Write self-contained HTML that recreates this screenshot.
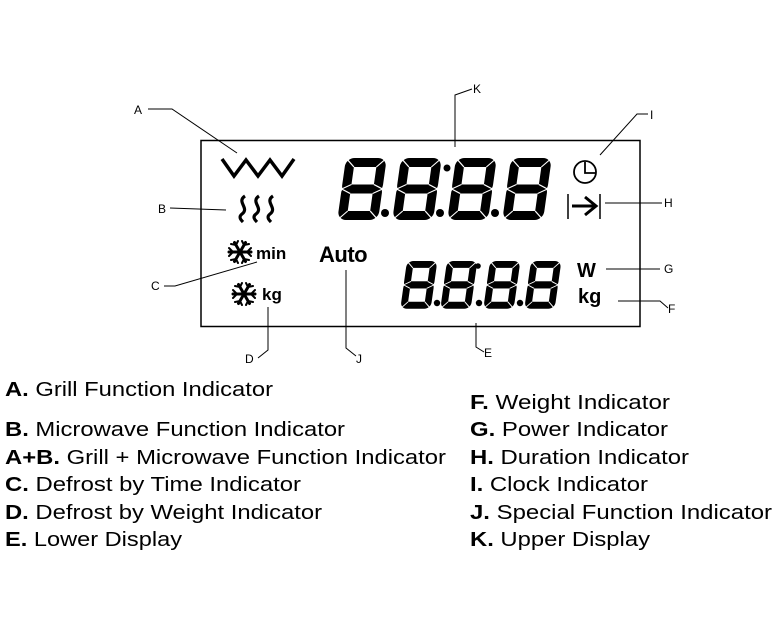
<!DOCTYPE html>
<html><head><meta charset="utf-8"><style>
html,body{margin:0;padding:0;background:#fff;width:777px;height:636px;overflow:hidden}
svg{display:block}
</style></head><body>
<svg width="777" height="636" viewBox="0 0 777 636" xmlns="http://www.w3.org/2000/svg">
<defs>
<g id="dg">
<rect x="4.5" y="4.5" width="31" height="26.5" rx="4" fill="none" stroke="#000" stroke-width="9"/>
<rect x="4.5" y="31" width="31" height="26.5" rx="4" fill="none" stroke="#000" stroke-width="9"/>
<g stroke="#fff" stroke-width="1.2">
<line x1="0" y1="0" x2="9" y2="9"/><line x1="40" y1="0" x2="31" y2="9"/>
<line x1="0" y1="62" x2="9" y2="53"/><line x1="40" y1="62" x2="31" y2="53"/>
<line x1="0" y1="31" x2="9" y2="26.5"/><line x1="0" y1="31" x2="9" y2="35.5"/>
<line x1="40" y1="31" x2="31" y2="26.5"/><line x1="40" y1="31" x2="31" y2="35.5"/>
</g>
</g>
<g id="flake" stroke="#000" stroke-width="3" stroke-linecap="round">
<line x1="-11" y1="0" x2="11" y2="0"/><line x1="-5.5" y1="-9.5" x2="5.5" y2="9.5"/><line x1="-5.5" y1="9.5" x2="5.5" y2="-9.5"/>
<g stroke-width="2"><path d="M-11,-4 L-7,0 L-11,4 M11,-4 L7,0 L11,4 M-9,-8 L-4,-7 L-2,-11 M9,8 L4,7 L2,11 M-9,8 L-4,7 L-2,11 M9,-8 L4,-7 L2,-11" fill="none"/></g>
</g>
</defs>
<rect x="201" y="140.5" width="439" height="186" fill="none" stroke="#000" stroke-width="1.5"/>
<!-- upper digits -->
<g transform="translate(0,158) skewX(-8)">
<use href="#dg" transform="translate(346,0) scale(1.02,1)"/>
<use href="#dg" transform="translate(401,0) scale(1.02,1)"/>
<use href="#dg" transform="translate(456,0) scale(1.02,1)"/>
<use href="#dg" transform="translate(511,0) scale(1.02,1)"/>
</g>
<g fill="#000"><circle cx="385" cy="213" r="4"/><circle cx="440" cy="213" r="4"/><circle cx="495" cy="213" r="4"/><circle cx="447" cy="168" r="3.5"/></g>
<!-- lower digits -->
<g transform="translate(0,261) skewX(-8)">
<use href="#dg" transform="translate(407,0) scale(0.76,0.77)"/>
<use href="#dg" transform="translate(447,0) scale(0.76,0.77)"/>
<use href="#dg" transform="translate(490,0) scale(0.76,0.77)"/>
<use href="#dg" transform="translate(531,0) scale(0.76,0.77)"/>
</g>
<g fill="#000"><circle cx="437" cy="303" r="3.2"/><circle cx="479" cy="303" r="3.2"/><circle cx="520" cy="303" r="3.2"/><circle cx="478" cy="266" r="2.8"/></g>
<!-- grill -->
<polyline points="222,159 234,176 246,160 258,176 270,160 282,176 294,159" fill="none" stroke="#000" stroke-width="3.5"/>
<!-- waves -->
<g fill="none" stroke="#000" stroke-width="3.2">
<path d="M245,196 C236,202 250,208 242,214 C238,217 241,220 243,222"/>
<path d="M259,196 C250,202 264,208 256,214 C252,217 255,220 257,222"/>
<path d="M273,196 C264,202 278,208 270,214 C266,217 269,220 271,222"/>
</g>
<use href="#flake" transform="translate(240,252)"/>
<use href="#flake" transform="translate(244,294)"/>
<g font-family="Liberation Sans, sans-serif" font-weight="bold" fill="#000">
<text x="256" y="259" font-size="17">min</text>
<text x="262" y="300" font-size="17">kg</text>
<text x="319" y="262" font-size="22" letter-spacing="-0.5">Auto</text>
<text x="577" y="277" font-size="20">W</text>
<text x="578" y="303" font-size="20">kg</text>
</g>
<!-- clock -->
<circle cx="585" cy="172" r="11" fill="none" stroke="#000" stroke-width="1.8"/>
<path d="M585,162 V173 H596" fill="none" stroke="#000" stroke-width="1.8"/>
<!-- duration -->
<g stroke="#000" fill="none">
<line x1="568" y1="194" x2="568" y2="219" stroke-width="1.5"/>
<line x1="600" y1="194" x2="600" y2="219" stroke-width="1.5"/>
<line x1="572" y1="206" x2="596" y2="206" stroke-width="3"/>
<polyline points="585,197 596,206 585,215" stroke-width="3"/>
</g>
<!-- leaders -->
<g stroke="#000" stroke-width="1" fill="none">
<polyline points="148,109 172,109 237,153"/>
<polyline points="170,208 226,210"/>
<polyline points="164,286 175,286 257,262"/>
<polyline points="258,358 268,350 268,307"/>
<polyline points="346,270 346,348 356,356"/>
<polyline points="476,323 476,347 484,352"/>
<polyline points="472,89 455,95 455,147"/>
<polyline points="648,114 637,114 600,155"/>
<polyline points="605,203 662,203"/>
<polyline points="606,269 660,269"/>
<polyline points="618,301 660,301 668,308"/>
</g>
<g font-family="Liberation Sans, sans-serif" font-size="12" fill="#000">
<text x="134" y="114">A</text><text x="158" y="213">B</text><text x="151" y="290">C</text>
<text x="245" y="363">D</text><text x="356" y="363">J</text><text x="484" y="357">E</text>
<text x="473" y="93">K</text><text x="650" y="119">I</text><text x="664" y="207">H</text>
<text x="664" y="273">G</text><text x="668" y="313">F</text>
</g>
<!-- legend -->
<g font-family="Liberation Sans, sans-serif" font-size="20" fill="#000">
<text x="5" y="396" textLength="268" lengthAdjust="spacingAndGlyphs"><tspan font-weight="bold">A.</tspan> Grill Function Indicator</text>
<text x="5" y="436" textLength="340" lengthAdjust="spacingAndGlyphs"><tspan font-weight="bold">B.</tspan> Microwave Function Indicator</text>
<text x="5" y="464" textLength="441" lengthAdjust="spacingAndGlyphs"><tspan font-weight="bold">A+B.</tspan> Grill + Microwave Function Indicator</text>
<text x="5" y="491" textLength="296" lengthAdjust="spacingAndGlyphs"><tspan font-weight="bold">C.</tspan> Defrost by Time Indicator</text>
<text x="5" y="519" textLength="317" lengthAdjust="spacingAndGlyphs"><tspan font-weight="bold">D.</tspan> Defrost by Weight Indicator</text>
<text x="5" y="546" textLength="177" lengthAdjust="spacingAndGlyphs"><tspan font-weight="bold">E.</tspan> Lower Display</text>
<text x="470" y="409" textLength="200" lengthAdjust="spacingAndGlyphs"><tspan font-weight="bold">F.</tspan> Weight Indicator</text>
<text x="470" y="436" textLength="198" lengthAdjust="spacingAndGlyphs"><tspan font-weight="bold">G.</tspan> Power Indicator</text>
<text x="470" y="464" textLength="219" lengthAdjust="spacingAndGlyphs"><tspan font-weight="bold">H.</tspan> Duration Indicator</text>
<text x="470" y="491" textLength="178" lengthAdjust="spacingAndGlyphs"><tspan font-weight="bold">I.</tspan> Clock Indicator</text>
<text x="470" y="519" textLength="302" lengthAdjust="spacingAndGlyphs"><tspan font-weight="bold">J.</tspan> Special Function Indicator</text>
<text x="470" y="546" textLength="180" lengthAdjust="spacingAndGlyphs"><tspan font-weight="bold">K.</tspan> Upper Display</text>
</g>
</svg>
</body></html>
